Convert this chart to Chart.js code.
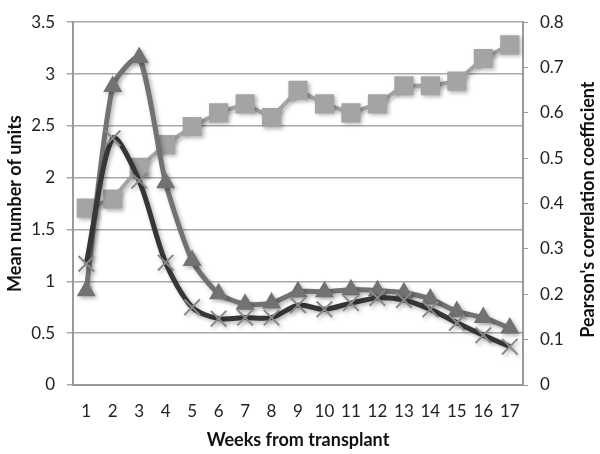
<!DOCTYPE html>
<html>
<head>
<meta charset="utf-8">
<script src="https://cdn.jsdelivr.net/npm/chart.js@4"></script>
<style>
  html, body { margin: 0; padding: 0; background: #fff; }
</style>
</head>
<body>
<canvas id="weeksChart" width="600" height="454"></canvas>
<script>
// data
const weeks = ['1', '2', '3', '4', '5', '6', '7', '8', '9', '10', '11', '12', '13', '14', '15', '16', '17'];
const unitsDark = [1.17, 2.38, 1.97, 1.18, 0.75, 0.64, 0.65, 0.65, 0.77, 0.73, 0.79, 0.84, 0.82, 0.73, 0.60, 0.48, 0.37];
const unitsMid = [0.91, 2.88, 3.16, 1.95, 1.20, 0.88, 0.78, 0.79, 0.90, 0.90, 0.92, 0.91, 0.89, 0.83, 0.71, 0.65, 0.55];
const pearsonR = [0.39, 0.41, 0.48, 0.53, 0.57, 0.60, 0.62, 0.59, 0.65, 0.62, 0.60, 0.62, 0.66, 0.66, 0.67, 0.72, 0.75];
const leftTicks = { min: 0, max: 3.5, step: 0.5 };
const rightTicks = { min: 0, max: 0.8, step: 0.1 };

const FONT = 'Lato';
const fmt = (v) => String(Number(v.toFixed(2)));

// soft Excel-like shadow under the series
const seriesShadow = {
    id: 'seriesShadow',
    beforeDatasetsDraw(chart) {
        const ctx = chart.ctx;
        ctx.save();
        ctx.shadowColor = 'rgba(0,0,0,0.3)';
        ctx.shadowBlur = 4;
        ctx.shadowOffsetX = 2;
        ctx.shadowOffsetY = 2;
    },
    afterDatasetsDraw(chart) {
        chart.ctx.restore();
    }
};

// right axis title reads bottom-to-top like the left one
const rightTitle = {
    id: 'rightTitle',
    afterDraw(chart) {
        const { ctx, chartArea } = chart;
        ctx.save();
        ctx.translate(588, (chartArea.top + chartArea.bottom) / 2 + 6);
        ctx.rotate(-Math.PI / 2);
        ctx.font = `bold 18px ${FONT}`;
        ctx.fillStyle = '#111';
        ctx.textAlign = 'center';
        ctx.textBaseline = 'middle';
        ctx.fillText("Pearson's correlation coefficient", 0, 0);
        ctx.restore();
    }
};

const ctx = document.getElementById('weeksChart').getContext('2d');
new Chart(ctx, {
    type: 'line',
    data: {
        labels: weeks,
        datasets: [
            {
                label: 'Mean units (dark)',
                data: unitsDark,
                yAxisID: 'y',
                borderColor: '#363636',
                borderWidth: 5,
                tension: 0.28,
                pointStyle: 'crossRot',
                pointRadius: 11,
                pointBorderColor: '#888888',
                pointBorderWidth: 2,
                order: 1
            },
            {
                label: 'Mean units (mid)',
                data: unitsMid,
                yAxisID: 'y',
                borderColor: '#727272',
                borderWidth: 5,
                tension: 0.22,
                pointStyle: 'triangle',
                pointRadius: 11,
                pointBackgroundColor: '#727272',
                pointBorderWidth: 0,
                order: 2
            },
            {
                label: "Pearson's r",
                data: pearsonR,
                yAxisID: 'y2',
                borderColor: '#a4a4a4',
                borderWidth: 4,
                tension: 0,
                pointStyle: 'rect',
                pointRadius: 13.5,
                pointBackgroundColor: '#a4a4a4',
                pointBorderWidth: 0,
                order: 3
            }
        ]
    },
    options: {
        responsive: false,
        animation: false,
        layout: { padding: { top: 13 } },
        plugins: {
            legend: { display: false },
            tooltip: { enabled: false }
        },
        scales: {
            x: {
                offset: true,
                grid: { display: false, drawTicks: false },
                border: { color: '#9a9a9a', width: 2 },
                ticks: { color: '#222', font: { family: FONT, size: 17 }, padding: 16, maxRotation: 0, autoSkip: false },
                title: {
                    display: true,
                    text: 'Weeks from transplant',
                    color: '#111',
                    font: { family: FONT, size: 18, weight: 'bold' },
                    padding: { top: 0, bottom: 3 }
                },
                afterFit: (s) => { s.height = 69; }
            },
            y: {
                position: 'left',
                min: leftTicks.min,
                max: leftTicks.max,
                grid: { color: '#a8a8a8', lineWidth: 1.5, tickLength: 6 },
                border: { color: '#9a9a9a', width: 2 },
                ticks: { stepSize: leftTicks.step, callback: fmt, color: '#222', font: { family: FONT, size: 17 }, padding: 12 },
                title: {
                    display: true,
                    text: 'Mean number of units',
                    color: '#111',
                    font: { family: FONT, size: 18, weight: 'bold' },
                    padding: { top: 4, bottom: 0 }
                },
                afterFit: (s) => { s.width = 73; }
            },
            y2: {
                position: 'right',
                min: rightTicks.min,
                max: rightTicks.max,
                grid: { drawOnChartArea: false, color: '#9a9a9a', tickLength: 5 },
                border: { color: '#9a9a9a', width: 2 },
                ticks: { stepSize: rightTicks.step, callback: fmt, color: '#222', font: { family: FONT, size: 17 }, padding: 12 },
                afterFit: (s) => { s.width = 77; }
            }
        }
    },
    plugins: [seriesShadow, rightTitle]
});
</script>
</body>
</html>
